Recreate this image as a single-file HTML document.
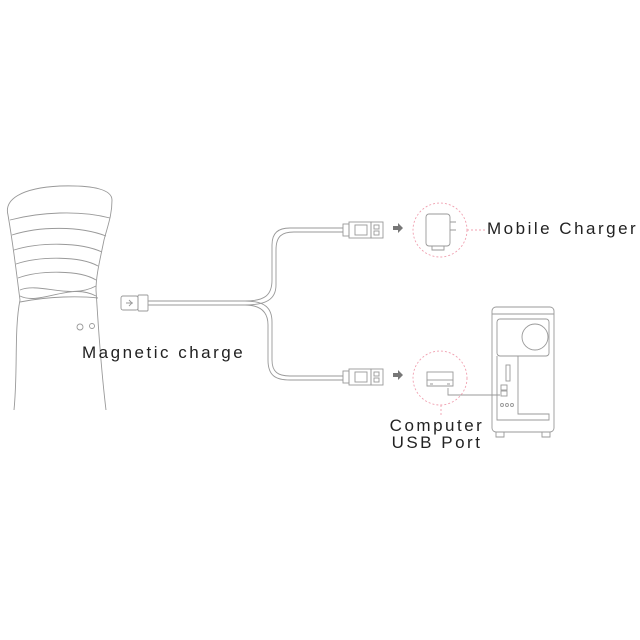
<!DOCTYPE html>
<html><head><meta charset="utf-8"><style>
html,body{margin:0;padding:0;background:#fff;width:640px;height:640px;overflow:hidden}
svg{display:block}
text{font-family:"Liberation Sans","DejaVu Sans",sans-serif;fill:#222;letter-spacing:2.5px}
</style></head><body>
<svg width="640" height="640" viewBox="0 0 640 640" xmlns="http://www.w3.org/2000/svg">
<g fill="none" stroke="#999" stroke-width="0.9">
<path d="M14 410 C18 370 14 330 20 300 C16 270 14 250 8 215 C4 200 20 188 60 186 C95 185 112 190 112 200 C112 215 108 225 104 240 C100 260 96 275 96 290 C98 320 100 360 106 410"/>
<path d="M10 220 C40 212 80 210 110 218"/>
<path d="M12 235 C40 226 80 226 106 236"/>
<path d="M14 250 C40 242 80 242 102 252"/>
<path d="M16 264 C40 256 80 256 98 266"/>
<path d="M18 278 C40 270 80 270 96 280"/>
<path d="M20 290 C40 282 70 300 96 286 M20 296 C40 306 70 282 96 296 M20 302 C50 296 80 296 98 298"/>
<circle cx="80" cy="327" r="3"/><circle cx="92" cy="326" r="2.5"/>
<rect x="121" y="296" width="17" height="14" rx="2"/>
<rect x="138" y="295" width="10" height="16" rx="1"/>
<path d="M126 303 h7 M129 300 l3 3 -3 3"/>
<path d="M148 301 H245 C265 301 272 295 272 280 V245 C272 233 278 228 290 228 H343"/>
<path d="M148 305 H245 C265 305 276 300 276 285 V250 C276 236 282 232 294 232 H343"/>
<path d="M245 301 C265 301 272 308 272 322 V360 C272 372 278 376 290 376 H343"/>
<path d="M245 305 C262 305 268 313 268 325 V360 C268 376 276 380 290 380 H343"/>
<rect x="343" y="224" width="6" height="12"/>
<rect x="349" y="222" width="22" height="16"/>
<rect x="355" y="225" width="12" height="10"/>
<rect x="371" y="222" width="12" height="16"/>
<rect x="374" y="225" width="5" height="4"/><rect x="374" y="231" width="5" height="4"/>
<rect x="343" y="371" width="6" height="12"/>
<rect x="349" y="369" width="22" height="16"/>
<rect x="355" y="372" width="12" height="10"/>
<rect x="371" y="369" width="12" height="16"/>
<rect x="374" y="372" width="5" height="4"/><rect x="374" y="378" width="5" height="4"/>
<rect x="426" y="214" width="24" height="32" rx="3"/>
<path d="M450 222 h6 M450 230 h6 M432 246 v4 h12 v-4"/>
<rect x="427" y="372" width="26" height="8"/>
<path d="M427 380 v6 h26 v-6 M430 384 h3 M447 384 h3"/>
<path d="M448 388 v7 h52"/>
<rect x="492" y="307" width="62" height="125" rx="4"/>
<path d="M492 314 h62"/>
<rect x="497" y="319" width="52" height="37" rx="3"/>
<circle cx="535" cy="337" r="13"/>
<path d="M497 356 V420 H549 V414 H518 V356"/>
<rect x="506" y="365" width="4" height="16"/>
<rect x="501" y="385" width="6" height="5"/><rect x="501" y="391" width="6" height="5"/>
<circle cx="502" cy="405" r="1.5"/><circle cx="507" cy="405" r="1.5"/><circle cx="512" cy="405" r="1.5"/>
<path d="M496 432 v5 h8 v-5 M542 432 v5 h8 v-5"/>
</g>
<g fill="#777"><path d="M393 226 h5 v-3 l5 5 -5 5 v-3 h-5z"/><path d="M393 373 h5 v-3 l5 5 -5 5 v-3 h-5z"/></g>
<g fill="none" stroke="#f0a0b0" stroke-width="0.9" stroke-dasharray="2 2">
<circle cx="440" cy="230" r="27"/>
<circle cx="440" cy="378" r="27"/>
<path d="M467 230 H485 M441 405 V416"/>
</g>
<text x="487" y="234" font-size="17">Mobile Charger</text>
<text x="82" y="358" font-size="17">Magnetic charge</text>
<text x="437" y="431" font-size="17" text-anchor="middle">Computer</text>
<text x="437" y="448" font-size="17" text-anchor="middle">USB Port</text>
</svg>
</body></html>
